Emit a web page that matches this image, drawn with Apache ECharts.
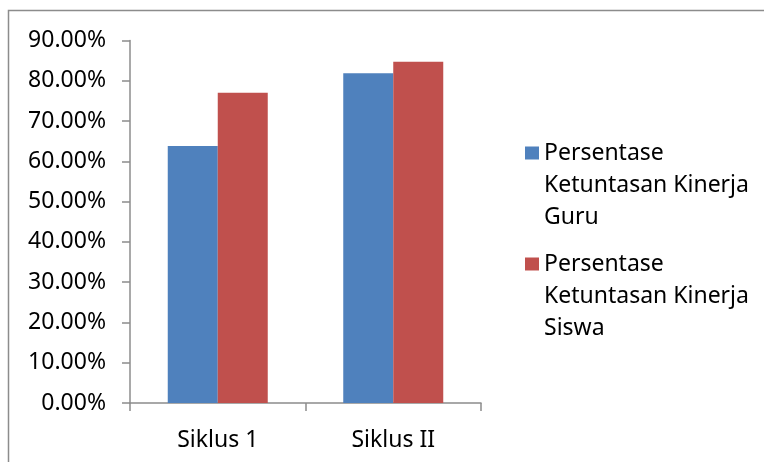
<!DOCTYPE html>
<html>
<head>
<meta charset="utf-8">
<script src="https://cdn.jsdelivr.net/npm/echarts@6/dist/echarts.min.js"></script>
<style>html,body{margin:0;padding:0;background:#fff}#c{width:764px;height:462px}</style>
</head>
<body>
<div id="c"></div>
<script>
var categories = ['Siklus 1', 'Siklus II'];
var seriesNames = ['Persentase Ketuntasan Kinerja Guru', 'Persentase Ketuntasan Kinerja Siswa'];
var guruValues = [63.8, 81.9];
var siswaValues = [77.0, 84.7];
var yTicks = [0, 10, 20, 30, 40, 50, 60, 70, 80, 90];

var FONT = 'Noto Sans';
var chart = echarts.init(document.getElementById('c'), null, {renderer: 'canvas'});
chart.setOption({
  animation: false,
  backgroundColor: '#fff',
  graphic: [{
    type: 'rect', shape: {x: 8.5, y: 10.5, width: 800, height: 500},
    style: {fill: 'none', stroke: '#8c8c8c', lineWidth: 1.5}, silent: true
  }],
  grid: {left: 130, right: 283, top: 40.5, bottom: 59, containLabel: false},
  legend: {
    orient: 'vertical', left: 525, top: 73, padding: 0,
    itemWidth: 14, itemHeight: 13, itemGap: -49,
    icon: 'rect',
    formatter: function (n) { return '\n\n' + n.replace(' Ketuntasan', '\nKetuntasan').replace('Kinerja ', 'Kinerja\n'); },
    textStyle: {fontFamily: FONT, fontSize: 23, color: '#000', lineHeight: 32},
    data: seriesNames
  },
  xAxis: {
    type: 'category', data: categories,
    axisLine: {lineStyle: {color: '#8c8c8c', width: 1.5}},
    axisTick: {show: true, length: 8, lineStyle: {color: '#8c8c8c', width: 1.5}},
    axisLabel: {fontFamily: FONT, fontSize: 23, color: '#000', margin: 26}
  },
  yAxis: {
    type: 'value', min: 0, max: 90, interval: 10,
    axisLine: {show: true, lineStyle: {color: '#8c8c8c', width: 1.5}},
    axisTick: {show: true, length: 8, lineStyle: {color: '#8c8c8c', width: 1.5}},
    splitLine: {show: false},
    axisLabel: {fontFamily: FONT, fontSize: 23, color: '#000', margin: 24,
      formatter: function (v) { return yTicks.indexOf(v) >= 0 ? v.toFixed(2) + '%' : ''; }}
  },
  series: [
    {name: seriesNames[0], type: 'bar', data: guruValues, barWidth: 50, barGap: '0%',
      itemStyle: {color: '#4F81BD'}},
    {name: seriesNames[1], type: 'bar', data: siswaValues, barWidth: 50, barGap: '0%',
      itemStyle: {color: '#C0504D'}}
  ]
});
</script>
</body>
</html>
